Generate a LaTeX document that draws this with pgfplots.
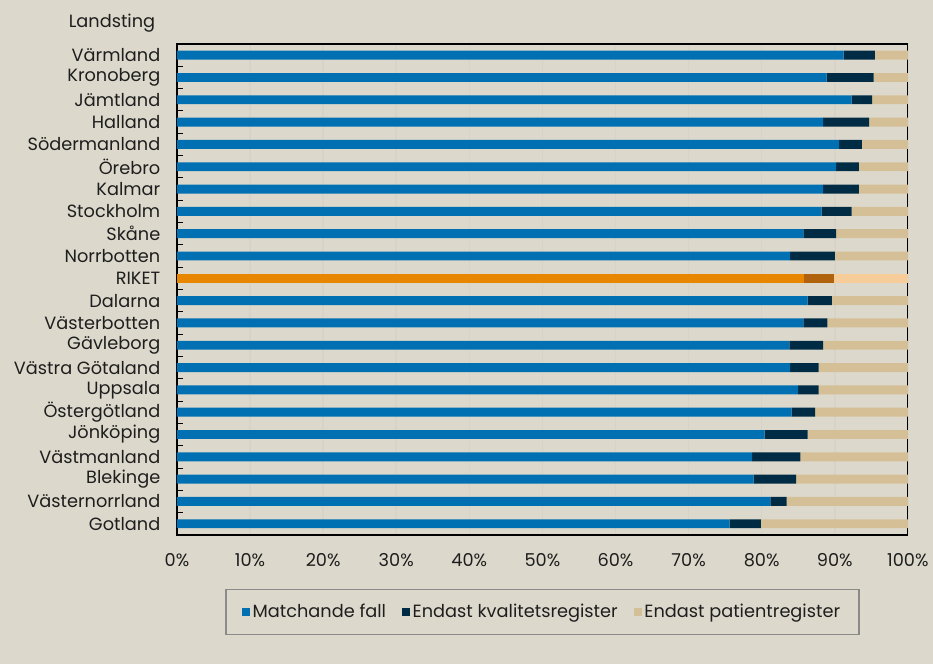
\documentclass[border=0pt]{standalone}
\usepackage{fontspec}
\setmainfont{Poppins}
\usepackage{pgfplots}
\pgfplotsset{compat=1.18}
\definecolor{bg}{RGB}{220,217,204}
\definecolor{cblue}{RGB}{0,112,178}
\definecolor{cnavy}{RGB}{0,43,69}
\definecolor{ctan}{RGB}{212,191,150}
\definecolor{corange}{RGB}{232,134,0}
\definecolor{cbrown}{RGB}{176,98,12}
\definecolor{clight}{RGB}{246,204,152}
\definecolor{cgrid}{RGB}{216,211,202}
\definecolor{txt}{RGB}{30,30,30}
\definecolor{lframe}{RGB}{138,138,138}
\pgfplotsset{sqlegend/.style={legend image code/.code={\fill[##1] (0pt,-3pt) rectangle (6pt,3pt);}}}
\begin{document}
\begin{tikzpicture}
\fill[bg] (0pt,0pt) rectangle (699.75pt,498pt);
\node[anchor=base, font=\fontsize{13.3}{15}\selectfont, text=txt] at (84pt,477pt) {Landsting};
\begin{axis}[
  at={(132.75pt,96.75pt)}, anchor=south west,
  width=548.25pt, height=368.25pt, scale only axis,
  xbar stacked, bar width=0.4,
  xmin=0, xmax=100, ymin=-0.5, ymax=21.5, y dir=reverse,
  axis line style={black, line width=0.9pt},
  xtick={0,10,...,100},
  xticklabel={\pgfmathprintnumber{\tick}\%},
  xmajorgrids, grid style={cgrid, line width=1.2pt},
  major x tick style={draw=none},
  ytick={0,...,21},
  yticklabels={Värmland,Kronoberg,Jämtland,Halland,Södermanland,Örebro,Kalmar,Stockholm,Skåne,Norrbotten,RIKET,Dalarna,Västerbotten,Gävleborg,Västra Götaland,Uppsala,Östergötland,Jönköping,Västmanland,Blekinge,Västernorrland,Gotland},
  major y tick style={draw=none},
  minor ytick={0.5,1.5,...,20.5},
  minor y tick style={black, line width=0.7pt},
  minor tick length=4.5pt,
  tick align=inside, ytick pos=left,
  yticklabel style={xshift=-9pt},
  xticklabel style={yshift=-10.5pt},
  tick label style={font=\fontsize{13.3}{15}\selectfont, text=txt},
  /pgf/number format/assume math mode=true,
  legend columns=3,
  legend style={at={(0.500,-0.157)}, anchor=center, fill=bg, draw=lframe, line width=1.1pt,
    font=\fontsize{13.3}{15}\selectfont, text=txt, inner xsep=12pt, inner ysep=9pt,
    /tikz/every even column/.append style={column sep=10pt}},
  every axis plot/.append style={draw=none},
]
\addlegendimage{sqlegend, fill=cblue}
\addlegendimage{sqlegend, fill=cnavy}
\addlegendimage{sqlegend, fill=ctan}
\addplot[fill=cblue] coordinates {(91.2,0) (88.9,1) (92.3,2) (88.4,3) (90.6,4) (90.2,5) (88.4,6) (88.2,7) (85.7,8) (83.9,9) (0,10) (86.3,11) (85.7,12) (83.8,13) (83.9,14) (85.0,15) (84.1,16) (80.4,17) (78.7,18) (78.9,19) (81.2,20) (75.6,21)};
\addplot[fill=corange] coordinates {(0,0) (0,1) (0,2) (0,3) (0,4) (0,5) (0,6) (0,7) (0,8) (0,9) (85.8,10) (0,11) (0,12) (0,13) (0,14) (0,15) (0,16) (0,17) (0,18) (0,19) (0,20) (0,21)};
\addplot[fill=cnavy] coordinates {(4.3,0) (6.4,1) (2.8,2) (6.3,3) (3.1,4) (3.1,5) (4.9,6) (4.1,7) (4.5,8) (6.1,9) (0,10) (3.3,11) (3.3,12) (4.6,13) (3.9,14) (2.8,15) (3.2,16) (5.9,17) (6.6,18) (5.8,19) (2.2,20) (4.3,21)};
\addplot[fill=cbrown] coordinates {(0,0) (0,1) (0,2) (0,3) (0,4) (0,5) (0,6) (0,7) (0,8) (0,9) (4.1,10) (0,11) (0,12) (0,13) (0,14) (0,15) (0,16) (0,17) (0,18) (0,19) (0,20) (0,21)};
\addplot[fill=ctan] coordinates {(4.5,0) (4.7,1) (4.9,2) (5.3,3) (6.3,4) (6.7,5) (6.7,6) (7.7,7) (9.8,8) (10.0,9) (0,10) (10.4,11) (11.0,12) (11.6,13) (12.2,14) (12.2,15) (12.7,16) (13.7,17) (14.7,18) (15.3,19) (16.6,20) (20.1,21)};
\addplot[fill=clight] coordinates {(0,0) (0,1) (0,2) (0,3) (0,4) (0,5) (0,6) (0,7) (0,8) (0,9) (10.1,10) (0,11) (0,12) (0,13) (0,14) (0,15) (0,16) (0,17) (0,18) (0,19) (0,20) (0,21)};
\legend{Matchande fall,Endast kvalitetsregister,Endast patientregister}
\end{axis}
\end{tikzpicture}
\end{document}
